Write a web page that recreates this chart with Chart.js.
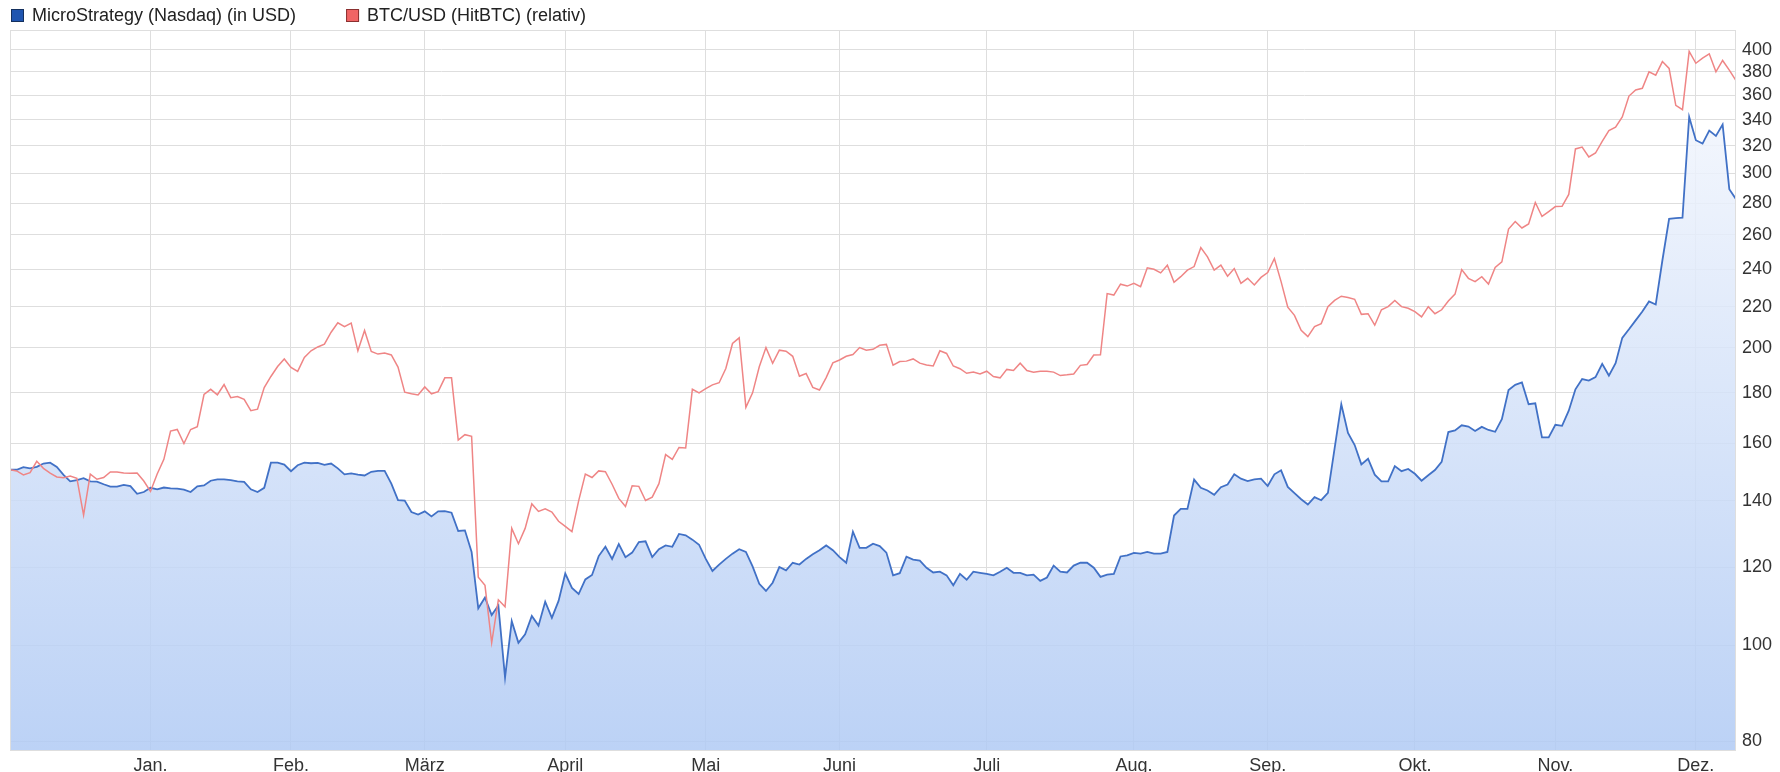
<!DOCTYPE html>
<html lang="de">
<head>
<meta charset="utf-8">
<title>MicroStrategy vs. BTC/USD</title>
<script src="https://cdn.jsdelivr.net/npm/chart.js@4.4.1/dist/chart.umd.min.js"></script>
<style>
  html, body { margin: 0; padding: 0; background: #fff; }
  #wrap { width: 1780px; height: 772px; position: relative; }
</style>
</head>
<body>
<div id="wrap"><canvas id="chart"></canvas></div>
<script>
const seriesNames = ["MicroStrategy (Nasdaq) (in USD)", "BTC/USD (HitBTC) (relativ)"];
const legendFill = ["#1f55b0", "#f06464"];
const legendBorder = ["#14305e", "#8a3030"];

// month labels and the trading day index where each month starts
const monthLabels = ["Jan.", "Feb.", "März", "April", "Mai", "Juni", "Juli", "Aug.", "Sep.", "Okt.", "Nov.", "Dez."];
const monthStarts = [21, 42, 62, 83, 104, 124, 146, 168, 188, 210, 231, 252];

const yTicks = [80, 100, 120, 140, 160, 180, 200, 220, 240, 260, 280, 300, 320, 340, 360, 380, 400];

// one value per trading day
const mstrValues = [
  150.5, 150.5, 151.4, 151, 151.5, 152.7, 153, 151.5, 148.7, 146.5,
  146.9, 147.6, 146.5, 146.4, 145.5, 144.7, 144.7, 145.3, 144.9, 142.3,
  142.9, 144.3, 143.8, 144.4, 144.1, 144, 143.7, 142.9, 144.8, 145.1,
  146.7, 147.2, 147.2, 146.9, 146.5, 146.3, 143.8, 142.9, 144.3, 153,
  153, 152.3, 150, 152.1, 153, 152.8, 152.9, 152.2, 152.7, 151,
  148.9, 149.2, 148.8, 148.5, 149.8, 150.1, 150.1, 145.7, 140.2, 140.1,
  136.4, 135.6, 136.6, 135, 136.6, 136.7, 136.2, 130.5, 130.7, 124.3,
  109, 111.8, 107.3, 109.7, 92.8, 105.8, 100.6, 102.6, 107.1, 104.7,
  110.7, 106.6, 110.9, 118.2, 114.3, 112.7, 116.6, 117.8, 123.1, 125.8,
  122.3, 126.6, 122.8, 124.1, 127.2, 127.4, 122.8, 125.1, 126.2, 125.8,
  129.6, 129.2, 127.9, 126.4, 122.3, 118.9, 120.7, 122.3, 123.8, 125.1,
  124.3, 120.2, 115.4, 113.5, 115.7, 120, 119.1, 121.2, 120.7, 122.3,
  123.6, 124.8, 126.2, 124.8, 122.8, 121.2, 130.3, 125.5, 125.5, 126.7,
  126, 124.1, 117.7, 118.3, 122.9, 122.1, 121.8, 119.8, 118.5, 118.7,
  117.7, 115, 118.1, 116.5, 118.7, 118.4, 118.1, 117.7, 118.7, 119.8,
  118.4, 118.4, 117.7, 117.9, 116.2, 117.1, 120.4, 118.7, 118.5, 120.4,
  121.2, 121.2, 119.8, 117.3, 117.9, 118.1, 123, 123.3, 124, 123.8,
  124.3, 123.8, 123.8, 124.3, 135.3, 137.4, 137.4, 147.1, 144.3, 143.4,
  142, 144.5, 145.4, 148.9, 147.4, 146.6, 147.2, 147.4, 144.9, 148.9,
  150.3, 144.6, 142.5, 140.5, 138.8, 141.2, 140.2, 142.6, 158.2, 175.3,
  164, 159.4, 152.4, 154.4, 148.8, 146.5, 146.5, 151.8, 150, 150.8,
  149.1, 146.7, 148.6, 150.4, 153.3, 164.3, 164.9, 166.9, 166.4, 164.7,
  166.3, 165.1, 164.4, 169.3, 181.2, 183.4, 184.4, 175.3, 175.7, 162.3,
  162.3, 167.1, 166.7, 172.7, 181.5, 185.9, 185.2, 186.7, 192.6, 187.4,
  192.9, 204.6, 208.7, 213.1, 217.5, 222.7, 221.1, 245.1, 269.9, 270.4,
  270.7, 342.1, 324.1, 321.6, 331.5, 327.4, 336.2, 289.2, 282.5
];

const btcValues = [
  150.5, 150.1, 148.7, 149.5, 153.5, 151, 149.3, 148, 147.7, 148.3,
  147.5, 135.4, 149, 147.2, 147.8, 149.7, 149.7, 149.4, 149.3, 149.4,
  146.6, 143.1, 149, 154.2, 164.7, 165.3, 160, 165.3, 166.4, 179.3,
  181.5, 179.2, 183.5, 178, 178.5, 177.3, 172.7, 173.3, 182.2, 187,
  191.4, 194.8, 191, 189.2, 195.5, 198.5, 200.3, 201.6, 207.3, 211.9,
  210, 211.7, 198.5, 208.1, 198.2, 197, 197.5, 196.6, 191.1, 180.3,
  179.6, 179.1, 182.5, 179.6, 180.5, 186.4, 186.4, 161.3, 163.3, 162.7,
  117.2, 115, 100.6, 111.2, 109.4, 131.3, 126.7, 131.3, 139, 136.6,
  137.4, 136.4, 133.5, 131.9, 130.3, 140, 149, 147.8, 150.1, 149.8,
  145.5, 140.8, 138.2, 145, 144.8, 140.1, 141.2, 145.7, 155.9, 154.2,
  158.5, 158.3, 181.5, 180, 181.8, 183.4, 184.3, 190.5, 201.9, 204.6,
  174, 180, 191.3, 200, 192.8, 198.8, 198.3, 196, 187.1, 188.3,
  182.3, 181.2, 186.5, 193, 194.3, 196, 196.8, 200, 198.8, 199.2,
  201.1, 201.5, 192, 193.6, 193.8, 194.8, 192.9, 192.1, 191.6, 198.5,
  197.3, 191.6, 190.4, 188.4, 188.9, 188.1, 189.3, 187, 186.4, 190.1,
  189.6, 192.9, 189.6, 188.9, 189.3, 189.3, 188.9, 187.4, 187.7, 188.1,
  191.9, 192.3, 196.6, 196.7, 226.8, 226, 231.8, 230.8, 232.3, 230.5,
  240.8, 240, 238, 242.3, 232.8, 235.9, 239.5, 241.5, 252.4, 247,
  239.5, 242.3, 236.2, 240.4, 232.3, 235, 231.4, 235.5, 238.2, 246.1,
  233.2, 219.7, 215.6, 208.2, 205.2, 210, 211.5, 220, 223.2, 225.4,
  224.7, 223.8, 216.1, 216.4, 210.7, 218.4, 220, 223.2, 220, 219.2,
  217.5, 214.8, 220, 216.4, 218.4, 222.9, 226.5, 239.8, 235, 233.2,
  235.9, 231.9, 241, 244.2, 263.6, 268.2, 264.2, 266.7, 280.4, 271.4,
  274.5, 277.7, 277.9, 285.7, 317.6, 319, 311.7, 314.6, 323.3, 331.5,
  334.1, 342.1, 359.2, 364.3, 365.7, 380, 377.1, 389.2, 383.1, 351.5,
  348, 398.5, 387.7, 392.3, 396.3, 380, 390.2, 381.5, 372.3
];

const FONT = '"Liberation Sans", Arial, sans-serif';
const GRID = "#dedede";

Chart.defaults.font.family = FONT;
Chart.defaults.font.size = 18;
Chart.defaults.color = "#333";

// light blue gradient under the MicroStrategy line
function areaGradient(context) {
  let area = context.chart.chartArea;
  if (!area) return "rgba(190,210,246,0.85)";
  let g = context.chart.ctx.createLinearGradient(0, area.top, 0, area.bottom);
  g.addColorStop(0, "rgba(250,251,254,0.85)");
  g.addColorStop(1, "rgba(176,202,244,0.85)");
  return g;
}

// thin frame round the plot area
const framePlugin = {
  id: "frame",
  afterDatasetsDraw(chart) {
    let { ctx, chartArea: a } = chart;
    ctx.save();
    ctx.strokeStyle = GRID;
    ctx.lineWidth = 1;
    ctx.strokeRect(Math.round(a.left) + 0.5, Math.round(a.top) + 0.5,
      Math.round(a.right - a.left) - 1, Math.round(a.bottom - a.top) - 1);
    ctx.restore();
  },
};

// legend row at the top left
const legendPlugin = {
  id: "topLegend",
  afterDraw(chart) {
    let ctx = chart.ctx;
    let x = 11;
    ctx.save();
    ctx.font = "18px " + FONT;
    ctx.textBaseline = "middle";
    chart.data.datasets.forEach((ds, i) => {
      ctx.fillStyle = legendFill[i];
      ctx.fillRect(x, 9, 13, 13);
      ctx.strokeStyle = legendBorder[i];
      ctx.lineWidth = 1;
      ctx.strokeRect(x + 0.5, 9.5, 12, 12);
      ctx.fillStyle = "#222";
      ctx.fillText(ds.label, x + 21, 16);
      x += 21 + ctx.measureText(ds.label).width + 50;
    });
    ctx.restore();
  },
};

new Chart(document.getElementById("chart"), {
  type: "line",
  data: {
    labels: mstrValues.map((v, i) => i),
    datasets: [
      {
        label: seriesNames[0],
        data: mstrValues,
        borderColor: "#4171c6",
        borderWidth: 1.8,
        pointRadius: 0,
        tension: 0,
        fill: "start",
        backgroundColor: areaGradient,
        order: 1,
      },
      {
        label: seriesNames[1],
        data: btcValues,
        borderColor: "#ef8585",
        borderWidth: 1.5,
        pointRadius: 0,
        tension: 0,
        fill: false,
        order: 0,
      },
    ],
  },
  options: {
    responsive: true,
    maintainAspectRatio: false,
    animation: false,
    layout: { padding: { left: 10, top: 30, right: 0, bottom: 0 } },
    plugins: {
      legend: { display: false },
      tooltip: { enabled: false },
    },
    scales: {
      x: {
        type: "linear",
        min: 0,
        max: mstrValues.length - 1,
        afterBuildTicks: (scale) => {
          scale.ticks = monthStarts.map((v) => ({ value: v }));
        },
        afterFit: (scale) => {
          scale.height = 21;
        },
        grid: { color: GRID, drawTicks: false },
        border: { display: false },
        ticks: {
          padding: 4,
          autoSkip: false,
          maxRotation: 0,
          callback: (v) => monthLabels[monthStarts.indexOf(v)],
        },
      },
      y: {
        type: "logarithmic",
        position: "right",
        min: 78.2,
        max: 418.9,
        afterBuildTicks: (scale) => {
          scale.ticks = yTicks.map((v) => ({ value: v }));
        },
        afterFit: (scale) => {
          scale.width = 44;
        },
        grid: { color: GRID, drawTicks: false },
        border: { display: false },
        ticks: {
          padding: 6,
          autoSkip: false,
          callback: (v) => String(v),
        },
      },
    },
  },
  plugins: [framePlugin, legendPlugin],
});
</script>
</body>
</html>
